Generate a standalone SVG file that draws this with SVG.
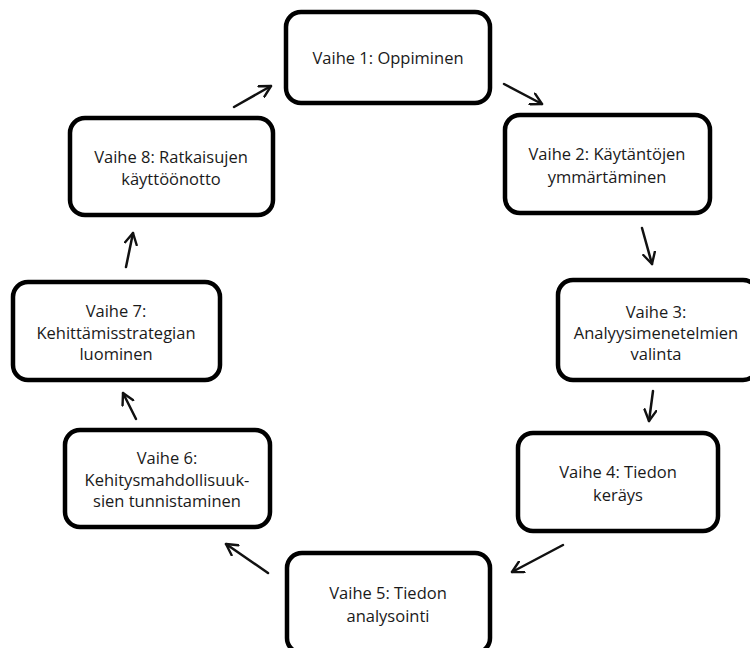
<svg xmlns="http://www.w3.org/2000/svg" width="750" height="648" viewBox="0 0 750 648">
<defs>
<style>
.box{fill:#fff;stroke:#000;stroke-width:4.5}
.t{font-family:"Open Sans","Liberation Sans",sans-serif;font-size:16.5px;fill:#1a1a1a;text-anchor:middle;dominant-baseline:central}
.c{fill:none;stroke:#111;stroke-width:2.5;stroke-linecap:round;marker-end:url(#ah)}
</style>
<marker id="ah" viewBox="0 0 14 14" refX="12" refY="7" markerWidth="14" markerHeight="14" markerUnits="userSpaceOnUse" orient="auto">
<path d="M1,1 L12,7 L1,13" fill="none" stroke="#111" stroke-width="2.4" stroke-linecap="round" stroke-linejoin="round"/>
</marker>
</defs>
<rect width="750" height="648" fill="#fff"/>
<g id="connectors">
<line class="c" x1="504" y1="84" x2="542" y2="104"/>
<line class="c" x1="642" y1="228" x2="652" y2="264"/>
<line class="c" x1="653" y1="391" x2="649" y2="421"/>
<line class="c" x1="563" y1="545" x2="512" y2="572"/>
<line class="c" x1="268" y1="573" x2="226" y2="544"/>
<line class="c" x1="136" y1="419" x2="123" y2="393"/>
<line class="c" x1="126" y1="267" x2="133" y2="233"/>
<line class="c" x1="234" y1="107" x2="271" y2="86"/>
</g>
<g id="n1"><rect class="box" x="286" y="12" width="204" height="91" rx="15"/>
<text class="t" x="388" y="57">Vaihe 1: Oppiminen</text></g>
<g id="n2"><rect class="box" x="505" y="115" width="205" height="98" rx="15"/>
<text class="t" x="607" y="153">Vaihe 2: Käytäntöjen</text>
<text class="t" x="607" y="176">ymmärtäminen</text></g>
<g id="n3"><rect class="box" x="558" y="280" width="200" height="100" rx="15"/>
<text class="t" x="656" y="311">Vaihe 3:</text>
<text class="t" x="656" y="332">Analyysimenetelmien</text>
<text class="t" x="656" y="353">valinta</text></g>
<g id="n4"><rect class="box" x="518" y="433" width="200" height="98" rx="15"/>
<text class="t" x="618" y="471">Vaihe 4: Tiedon</text>
<text class="t" x="618" y="494">keräys</text></g>
<g id="n5"><rect class="box" x="287" y="553" width="203" height="100" rx="15"/>
<text class="t" x="388" y="592">Vaihe 5: Tiedon</text>
<text class="t" x="388" y="615">analysointi</text></g>
<g id="n6"><rect class="box" x="65" y="430" width="205" height="97" rx="15"/>
<text class="t" x="167" y="457">Vaihe 6:</text>
<text class="t" x="167" y="479">Kehitysmahdollisuuk-</text>
<text class="t" x="167" y="500">sien tunnistaminen</text></g>
<g id="n7"><rect class="box" x="13" y="282" width="207" height="98" rx="15"/>
<text class="t" x="116" y="310">Vaihe 7:</text>
<text class="t" x="116" y="332">Kehittämisstrategian</text>
<text class="t" x="116" y="353">luominen</text></g>
<g id="n8"><rect class="box" x="70" y="118" width="203" height="97" rx="15"/>
<text class="t" x="171" y="156">Vaihe 8: Ratkaisujen</text>
<text class="t" x="171" y="178">käyttöönotto</text></g>
</svg>
